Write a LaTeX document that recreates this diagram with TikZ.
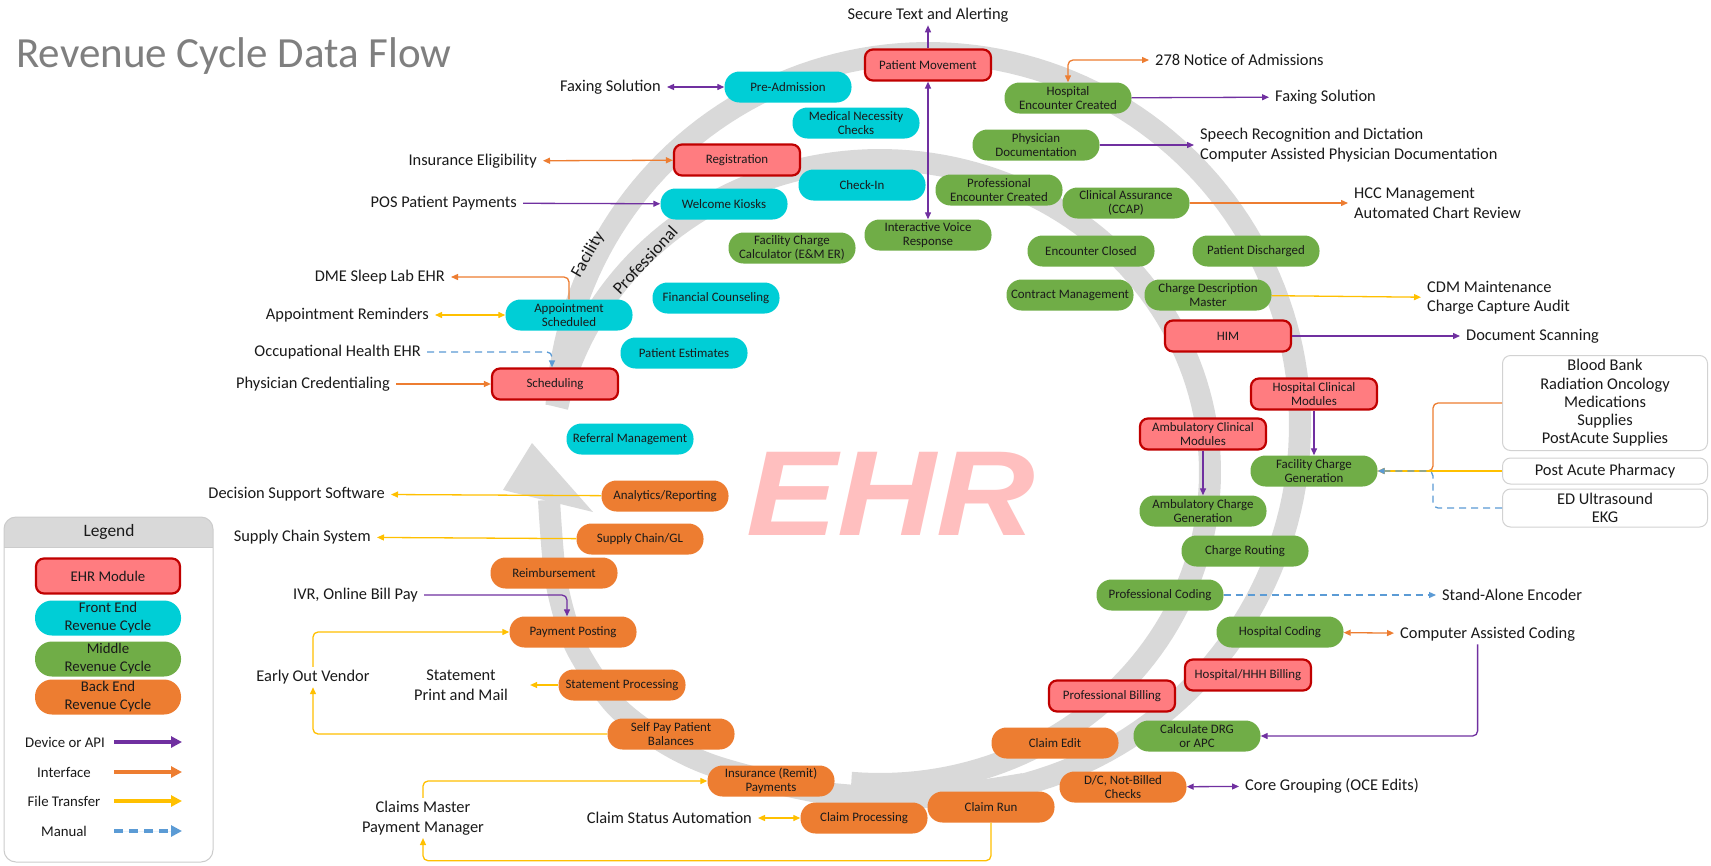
\documentclass[tikz,border=0pt]{standalone}
\usepackage{fontspec}
\setmainfont{Carlito}
\newfontfamily\ehrfont{Liberation Sans}
\usetikzlibrary{arrows.meta,calc}
\definecolor{ehrred}{HTML}{FF7C80}
\definecolor{ehrborder}{HTML}{C00000}
\definecolor{fecyan}{HTML}{00CED6}
\definecolor{midgreen}{HTML}{70AD47}
\definecolor{beorange}{HTML}{ED7D31}
\definecolor{cpurple}{HTML}{7030A0}
\definecolor{corange}{HTML}{ED7D31}
\definecolor{cyellow}{HTML}{FFC000}
\definecolor{cblue}{HTML}{5B9BD5}
\definecolor{bandgray}{HTML}{D9D9D9}
\definecolor{wmark}{HTML}{FFBFBF}
\definecolor{titlegray}{HTML}{7F7F7F}
\definecolor{txt}{HTML}{1A1A1A}
\pgfdeclarelayer{bg}
\pgfsetlayers{bg,main}
\tikzset{
  box/.style={rectangle, minimum width=127pt, minimum height=31pt, inner sep=1pt, align=center, text=txt, font=\fontsize{12.9}{14.5}\selectfont},
  ehr/.style={box, fill=ehrred, draw=ehrborder, line width=2.2pt, rounded corners=8pt, minimum width=126pt, minimum height=31pt},
  fe/.style={box, fill=fecyan, rounded corners=15pt},
  mid/.style={box, fill=midgreen, rounded corners=15pt},
  be/.style={box, fill=beorange, rounded corners=15pt},
  lbl/.style={inner xsep=6pt, inner ysep=3pt, align=left, text=txt, font=\fontsize{16.4}{19.5}\selectfont},
  side/.style={draw=gray!35, fill=white, rounded corners=8pt, line width=1pt, minimum width=205pt, align=center, text=txt, font=\fontsize{16.4}{18.3}\selectfont},
  con/.style={line width=1.3pt, rounded corners=5pt},
  arr/.style={-{Triangle[length=7pt,width=6pt]}},
  darr/.style={{Triangle[length=7pt,width=6pt]}-{Triangle[length=7pt,width=6pt]}},
  api/.style={con, draw=cpurple},
  ifc/.style={con, draw=corange},
  ftr/.style={con, draw=cyellow},
  man/.style={con, draw=cblue, dash pattern=on 7pt off 5pt},
  lgtxt/.style={text=txt, font=\fontsize{14.8}{18}\selectfont, inner sep=0pt},
  lgarr/.style={line width=3.5pt, -{Triangle[length=11pt,width=11pt]}},
  ring/.style={draw=bandgray, line width=22pt},
  bandlbl/.style={text=txt, font=\fontsize{17.5}{20}\selectfont, inner sep=0pt},
}
\begin{document}
\begin{tikzpicture}[x=1pt,y=-1pt]
\useasboundingbox (0,0) rectangle (1711,865);
\begin{pgfonlayer}{bg}
\fill[white] (0,0) rectangle (1711,865);
% ring
\draw[ring] plot[domain=183:450, samples=140] ({928+372*cos(\x)},{425+372*sin(\x)});
\draw[ring] plot[domain=192:455, samples=140] ({880+330*cos(\x)},{472+312*sin(\x)});
\draw[ring] plot[smooth] coordinates {(1024,784) (928,797) (825,793) (720,768) (665,743) (615,705) (575,645) (556,580) (549,500)};
\fill[bandgray] (503,490) -- (532,443) -- (593,512) -- cycle;
\node[bandlbl, rotate=60] (facl) at (588,255) {Facility};
\node[bandlbl, rotate=47] (profl) at (645,260) {Professional};
\node[font=\ehrfont\bfseries\itshape\fontsize{121}{121}\selectfont, text=wmark, anchor=base, inner sep=0pt, xscale=1.13] (wm) at (891,535) {EHR};
\end{pgfonlayer}

% title
\node[font=\fontsize{43}{50}\selectfont, text=titlegray, anchor=base west, inner sep=0pt] (title) at (16,67) {Revenue Cycle Data Flow};

% front end
\node[fe] (preadm) at (788,87) {Pre-Admission};
\node[fe] (mednec) at (856,123) {Medical Necessity\\Checks};
\node[fe] (checkin) at (862,185) {Check-In};
\node[fe] (kiosks) at (724,204) {Welcome Kiosks};
\node[fe] (apptsch) at (569,315) {Appointment\\Scheduled};
\node[fe] (fincoun) at (716,298) {Financial Counseling};
\node[fe] (patest) at (684,353) {Patient Estimates};
\node[fe] (referral) at (630,439) {Referral Management};
% EHR modules
\node[ehr] (pm) at (928,65) {Patient Movement};
\node[ehr] (reg) at (737,160) {Registration};
\node[ehr] (sched) at (555,384) {Scheduling};
\node[ehr] (him) at (1228,336) {HIM};
\node[ehr] (hcm) at (1314,394) {Hospital Clinical\\Modules};
\node[ehr] (acm) at (1203,434) {Ambulatory Clinical\\Modules};
\node[ehr] (hhh) at (1248,675) {Hospital/HHH Billing};
\node[ehr] (pb) at (1112,696) {Professional Billing};
% middle
\node[mid] (fcc) at (792,248) {Facility Charge\\Calculator (E\&M ER)};
\node[mid] (ivr) at (928,235) {Interactive Voice\\Response};
\node[mid] (hec) at (1068,98) {Hospital\\Encounter Created};
\node[mid] (phdoc) at (1036,145) {Physician\\Documentation};
\node[mid] (pec) at (999,190) {Professional\\Encounter Created};
\node[mid] (ccap) at (1126,203) {Clinical Assurance\\(CCAP)};
\node[mid] (encl) at (1091,251) {Encounter Closed};
\node[mid] (disch) at (1256,251) {Patient Discharged};
\node[mid] (contract) at (1070,295) {Contract Management};
\node[mid] (cdm) at (1208,295) {Charge Description\\Master};
\node[mid] (fcg) at (1314,471) {Facility Charge\\Generation};
\node[mid] (acg) at (1203,511) {Ambulatory Charge\\Generation};
\node[mid] (routing) at (1245,551) {Charge Routing};
\node[mid] (procod) at (1160,595) {Professional Coding};
\node[mid] (hoscod) at (1280,632) {Hospital Coding};
\node[mid] (drg) at (1197,736) {Calculate DRG\\or APC};
% back end
\node[be] (analytics) at (665,496) {Analytics/Reporting};
\node[be] (supply) at (640,539) {Supply Chain/GL};
\node[be] (reimb) at (554,573) {Reimbursement};
\node[be] (paypost) at (573,632) {Payment Posting};
\node[be] (stmt) at (622,685) {Statement Processing};
\node[be] (selfpay) at (671,734) {Self Pay Patient\\Balances};
\node[be] (insrem) at (771,781) {Insurance (Remit)\\Payments};
\node[be] (claimproc) at (864,818) {Claim Processing};
\node[be] (claimrun) at (991,807) {Claim Run};
\node[be] (claimedit) at (1055,743) {Claim Edit};
\node[be] (dc) at (1123,787) {D/C, Not-Billed\\Checks};

% side boxes
\node[side, minimum height=95pt] (bb) at (1605,403) {Blood Bank\\Radiation Oncology\\Medications\\Supplies\\PostAcute Supplies};
\node[side, minimum height=26pt] (pap) at (1605,471) {Post Acute Pharmacy};
\node[side, minimum height=38pt] (ed) at (1605,508) {ED Ultrasound\\EKG};

% outside labels
\node[lbl, align=center] (secure) at (928,15) {Secure Text and Alerting};
\node[lbl, anchor=east] (faxL) at (667,87) {Faxing Solution};
\node[lbl, anchor=east] (insel) at (543,161) {Insurance Eligibility};
\node[lbl, anchor=east] (pos) at (523,203) {POS Patient Payments};
\node[lbl, anchor=east] (dme) at (451,277) {DME Sleep Lab EHR};
\node[lbl, anchor=east] (apprem) at (435,315) {Appointment Reminders};
\node[lbl, anchor=east] (occ) at (427,352) {Occupational Health EHR};
\node[lbl, anchor=east] (physcred) at (396,384) {Physician Credentialing};
\node[lbl, anchor=east] (dss) at (391,494) {Decision Support Software};
\node[lbl, anchor=east] (scs) at (377,537) {Supply Chain System};
\node[lbl, anchor=east] (ivrpay) at (424,595) {IVR, Online Bill Pay};
\node[lbl, align=center] (eov) at (313,677) {Early Out Vendor};
\node[lbl, align=center, inner xsep=22pt] (stpm) at (461,685) {Statement\\Print and Mail};
\node[lbl, align=center] (claims) at (423,818) {Claims Master\\Payment Manager};
\node[lbl, anchor=east] (csa) at (758,818) {Claim Status Automation};
\node[lbl, anchor=west] (n278) at (1149,60) {278 Notice of Admissions};
\node[lbl, anchor=west] (faxR) at (1269,97) {Faxing Solution};
\node[lbl, anchor=west] (speech) at (1194,145) {Speech Recognition and Dictation\\Computer Assisted Physician Documentation};
\node[lbl, anchor=west] (hcc) at (1348,203) {HCC Management\\Automated Chart Review};
\node[lbl, anchor=west] (cdmm) at (1421,298) {CDM Maintenance\\Charge Capture Audit};
\node[lbl, anchor=west] (docscan) at (1460,336) {Document Scanning};
\node[lbl, anchor=west] (sae) at (1436,595) {Stand-Alone Encoder};
\node[lbl, anchor=west] (cac) at (1394,634) {Computer Assisted Coding};
\node[lbl, anchor=west] (core) at (1239,786) {Core Grouping (OCE Edits)};

% connectors
\draw[api, arr] (pm) -- (secure);
\draw[api, darr] (pm) -- (ivr);
\draw[api, darr] (faxL) -- (preadm);
\draw[ifc, darr] (insel) -- (reg);
\draw[api, arr] (pos) -- (kiosks);
\draw[ifc, arr] (apptsch.north) |- (dme);
\draw[ftr, darr] (apprem) -- (apptsch);
\draw[man, arr] (occ) -| ([xshift=-3pt]sched.north);
\draw[ifc, arr] (physcred) -- (sched);
\draw[ftr, arr] (analytics) -- (dss);
\draw[ftr, arr] (supply) -- (scs);
\draw[api, arr] (ivrpay) -| ([xshift=-6pt]paypost.north);
\draw[ftr, arr] (eov) |- (paypost);
\draw[ftr, arr] (selfpay) -| (eov);
\draw[ftr, arr] (stmt) -- (stpm);
\draw[ftr, arr] (claims) |- (insrem);
\draw[ftr, arr] (claimrun.south) -- ++(0,38) -| (claims.south);
\draw[ftr, darr] (csa) -- (claimproc);
\draw[api, darr] (dc) -- (core);
\draw[api, arr] ([xshift=-10pt]cac.south) |- (drg);
\draw[ifc, darr] (hoscod) -- (cac);
\draw[man, arr] (procod) -- (sae);
\draw[ifc, arr] (bb.west) -- ++(-69,0) |- (fcg);
\draw[ftr, arr] (pap) -- (fcg);
\draw[man, arr] (ed.west) -- ++(-69,0) |- (fcg);
\draw[api, arr] (hcm) -- (fcg);
\draw[api, arr] (acm) -- (acg);
\draw[api, arr] (him) -- (docscan);
\draw[ftr, arr] (cdm) -- (cdmm);
\draw[ifc, darr] (hec.north) |- (n278);
\draw[api, arr] (hec) -- (faxR);
\draw[api, arr] (phdoc) -- (speech);
\draw[ifc, arr] (ccap) -- (hcc);

% legend
\begin{scope}
\clip[rounded corners=12pt] (4,517) rectangle (213,862);
\fill[bandgray] (4,517) rectangle (213,547);
\end{scope}
\draw[gray!40, line width=1pt, rounded corners=12pt] (4,517) rectangle (213,862);
\draw[gray!40, line width=1pt] (4,547) -- (213,547);
\node[text=txt, font=\fontsize{17.4}{20}\selectfont] (lgtitle) at (109,532) {Legend};
\node[ehr, minimum width=144pt, minimum height=35pt, font=\fontsize{14.8}{18}\selectfont] (lgehr) at (108,576) {EHR Module};
\node[fe, minimum width=146pt, minimum height=35pt, rounded corners=17pt, font=\fontsize{14.8}{18}\selectfont] (lgfe) at (108,618) {Front End\\Revenue Cycle};
\node[mid, minimum width=146pt, minimum height=35pt, rounded corners=17pt, font=\fontsize{14.8}{18}\selectfont] (lgmid) at (108,659) {Middle\\Revenue Cycle};
\node[be, minimum width=146pt, minimum height=35pt, rounded corners=17pt, font=\fontsize{14.8}{18}\selectfont] (lgbe) at (108,697) {Back End\\Revenue Cycle};
\node[lgtxt] (lgapi) at (65,742) {Device or API};
\node[lgtxt] (lgifc) at (64,772) {Interface};
\node[lgtxt] (lgftr) at (64,801) {File Transfer};
\node[lgtxt] (lgman) at (64,831) {Manual};
\coordinate (lgapiA) at (114,742); \coordinate (lgapiB) at (182,742);
\coordinate (lgifcA) at (114,772); \coordinate (lgifcB) at (182,772);
\coordinate (lgftrA) at (114,801); \coordinate (lgftrB) at (182,801);
\coordinate (lgmanA) at (114,831); \coordinate (lgmanB) at (182,831);
\draw[lgarr, draw=cpurple, fill=cpurple] (lgapiA) -- (lgapiB);
\draw[lgarr, draw=corange, fill=corange] (lgifcA) -- (lgifcB);
\draw[lgarr, draw=cyellow, fill=cyellow] (lgftrA) -- (lgftrB);
\draw[lgarr, draw=cblue, fill=cblue, dash pattern=on 9pt off 6pt] (lgmanA) -- (lgmanB);
\end{tikzpicture}
\end{document}
